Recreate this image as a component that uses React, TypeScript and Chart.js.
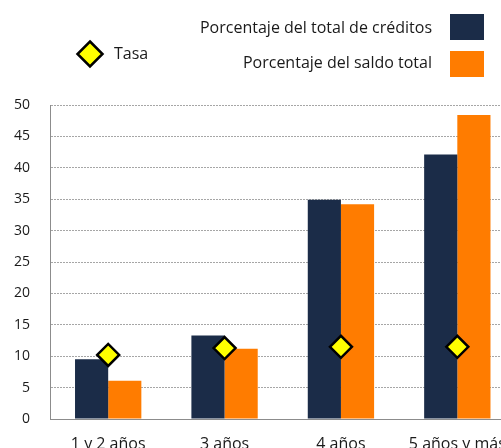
import React, { useEffect, useRef } from "react";
import { Chart, registerables } from "chart.js";

Chart.register(...registerables);

const categories = ["1 y 2 años", "3 años", "4 años", "5 años y más"];
const creditos = [9.5, 13.3, 34.9, 42.1];
const saldo = [6.1, 11.2, 34.2, 48.4];
const tasa = [10.2, 11.3, 11.5, 11.5];
const labelCreditos = "Porcentaje del total de créditos";
const labelSaldo = "Porcentaje del saldo total";
const labelTasa = "Tasa";
const yMin = 0;
const yMax = 50;
const yStep = 5;

const NAVY = "#1b2c48";
const ORANGE = "#ff7c00";
const YELLOW = "#ffff00";
const FONT = "'Open Sans', sans-serif";

const legendPlugin = {
  id: "customLegend",
  afterDraw(chart: any) {
    const ctx = chart.ctx;
    ctx.save();
    ctx.font = `16px ${FONT}`;
    ctx.fillStyle = "#1a1a1a";
    ctx.textBaseline = "middle";
    ctx.textAlign = "right";
    ctx.fillText(labelCreditos, 432, 28);
    ctx.fillText(labelSaldo, 432, 63);
    ctx.fillStyle = NAVY;
    ctx.fillRect(450, 14, 34, 26);
    ctx.fillStyle = ORANGE;
    ctx.fillRect(450, 51, 34, 26);
    const cx = 90, cy = 54, r = 12.5;
    ctx.beginPath();
    ctx.moveTo(cx, cy - r);
    ctx.lineTo(cx + r, cy);
    ctx.lineTo(cx, cy + r);
    ctx.lineTo(cx - r, cy);
    ctx.closePath();
    ctx.fillStyle = YELLOW;
    ctx.fill();
    ctx.lineWidth = 2.5;
    ctx.strokeStyle = "#000";
    ctx.stroke();
    ctx.fillStyle = "#1a1a1a";
    ctx.textAlign = "left";
    ctx.fillText(labelTasa, 114, 54);
    ctx.restore();
  },
};

export default function App() {
  const ref = useRef<HTMLCanvasElement | null>(null);
  useEffect(() => {
    if (!ref.current) return;
    const chart = new Chart(ref.current, {
      type: "bar",
      data: {
        labels: categories,
        datasets: [
          {
            type: "line",
            label: labelTasa,
            data: tasa,
            showLine: false,
            pointStyle: "rectRot",
            pointRadius: 11,
            pointBackgroundColor: YELLOW,
            pointBorderColor: "#000",
            pointBorderWidth: 2.5,
            order: 0,
          } as any,
          {
            label: labelCreditos,
            data: creditos,
            backgroundColor: NAVY,
            borderWidth: 0,
            order: 1,
          },
          {
            label: labelSaldo,
            data: saldo,
            backgroundColor: ORANGE,
            borderWidth: 0,
            order: 1,
          },
        ],
      },
      options: {
        responsive: false,
        animation: false,
        devicePixelRatio: 1,
        layout: { padding: { top: 105, right: 6, left: 0, bottom: 0 } },
        datasets: { bar: { categoryPercentage: 0.57, barPercentage: 1 } } as any,
        plugins: { legend: { display: false }, tooltip: { enabled: false } },
        scales: {
          x: {
            grid: { display: false, drawTicks: false },
            border: { display: true, color: "#8c8c8c", width: 1 },
            ticks: {
              padding: 16,
              color: "#1a1a1a",
              font: { family: FONT, size: 16 },
              maxRotation: 0,
              autoSkip: false,
            },
            afterFit: (s: any) => {
              s.height = 41;
            },
          },
          y: {
            min: yMin,
            max: yMax,
            grid: { color: "#a6a6a6", drawTicks: false, lineWidth: 1 },
            border: { display: true, color: "#8c8c8c", width: 1, dash: [2, 1] },
            ticks: {
              stepSize: yStep,
              padding: 20,
              color: "#1a1a1a",
              font: { family: FONT, size: 14 },
            },
            afterFit: (s: any) => {
              s.width = 50;
            },
          },
        },
      },
      plugins: [legendPlugin],
    });
    return () => chart.destroy();
  }, []);
  return (
    <div
      style={{
        position: "fixed",
        left: 0,
        top: 0,
        width: 501,
        height: 448,
        overflow: "hidden",
        background: "#fff",
      }}
    >
      <canvas ref={ref} width={529} height={460} style={{ width: 529, height: 460, display: "block" }} />
    </div>
  );
}
